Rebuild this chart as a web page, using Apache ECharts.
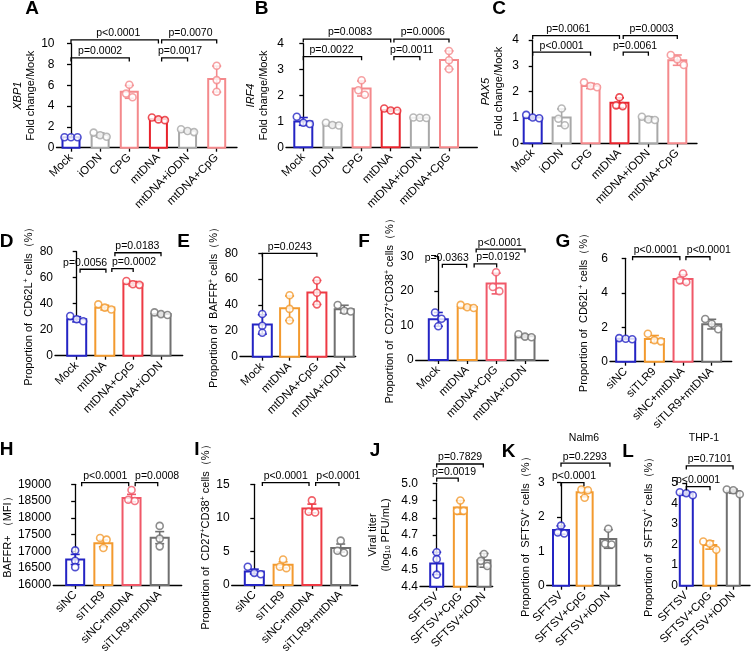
<!DOCTYPE html>
<html>
<head>
<meta charset="utf-8">
<script src="https://cdn.jsdelivr.net/npm/echarts@6/dist/echarts.min.js"></script>
<style>
html,body{margin:0;padding:0;background:#fff}
#main{width:751px;height:656px}
</style>
</head>
<body>
<div id="main"></div>
<script>
// ---- data ----
const catsABC = ['Mock', 'iODN', 'CPG', 'mtDNA', 'mtDNA+iODN', 'mtDNA+CpG'];
const catsDEF = ['Mock', 'mtDNA', 'mtDNA+CpG', 'mtDNA+iODN'];
const catsGHI = ['siNC', 'siTLR9', 'siNC+mtDNA', 'siTLR9+mtDNA'];
const catsJKL = ['SFTSV', 'SFTSV+CpG', 'SFTSV+iODN'];

// A  XBP1
const meanA = [1.0, 1.22, 5.37, 2.75, 1.62, 6.6];
const errA = [0.02, 0.2, 0.62, 0.12, 0.12, 1.25];
const ptsA = [[1.0, 1.0, 1.0], [1.45, 1.2, 1.05], [6.05, 5.2, 4.85], [2.9, 2.72, 2.65], [1.78, 1.6, 1.5], [7.88, 6.5, 5.38]];
// bracket: [from, to, level, text x, label]
const brA = [[0, 3, 10.36, 1.62, 'p<0.0001'], [3.11, 5, 10.36, 4.1, 'p=0.0070'], [0, 2, 8.63, 1.0, 'p=0.0002'], [3.11, 4, 8.63, 3.74, 'p=0.0017']];

// B  IRF4
const meanB = [1.0, 0.88, 2.27, 1.44, 1.14, 3.37];
const errB = [0.15, 0.06, 0.29, 0.05, 0.02, 0.35];
const ptsB = [[1.18, 0.95, 0.9], [0.95, 0.86, 0.84], [2.59, 2.2, 2.03], [1.5, 1.42, 1.41], [1.15, 1.14, 1.13], [3.72, 3.36, 3.02]];
const brB = [[0, 3, 4.18, 1.6, 'p=0.0083'], [3.11, 5, 4.18, 4.1, 'p=0.0006'], [0, 2, 3.5, 0.97, 'p=0.0022'], [3.11, 4, 3.5, 3.72, 'p=0.0011']];

// C  PAX5
const meanC = [1.0, 1.0, 2.22, 1.57, 0.95, 3.22];
const errC = [0.06, 0.33, 0.1, 0.19, 0.08, 0.2];
const ptsC = [[1.1, 1.0, 0.97], [1.35, 0.95, 0.7], [2.36, 2.22, 2.17], [1.78, 1.47, 1.44], [1.03, 0.92, 0.9], [3.42, 3.25, 3.03]];
const brC = [[0, 3, 4.17, 1.23, 'p=0.0061'], [3.13, 5, 4.17, 4.11, 'p=0.0003'], [0, 2, 3.53, 1.0, 'p<0.0001'], [3.13, 4, 3.53, 3.54, 'p=0.0061']];

// D  CD62L+
const meanD = [28, 37, 55.5, 32];
const errD = [2, 1.8, 1.6, 1];
const ptsD = [[30.5, 28, 26.5], [39.5, 37, 35.5], [57.5, 55, 54.5], [33.3, 32, 31.3]];
const brD = [[0.12, 1.04, 66.5, 0.3, 'p=0.0056'], [1.25, 2.01, 67, 2.04, 'p=0.0002'], [1.36, 3, 79.2, 2.16, 'p=0.0183']];

// E  BAFFR+
const meanE = [25, 37.5, 49.7, 36.8];
const errE = [7.5, 9.5, 9.3, 3];
const ptsE = [[33, 24, 18.5], [47.5, 37, 28], [59, 49.5, 40.5], [40, 35.5, 35]];
const brE = [[0, 2, 80, 1.01, 'p=0.0243']];

// F  CD27+CD38+
const meanF = [11.8, 15.4, 22.2, 6.9];
const errF = [2, 0.5, 3, 0.4];
const ptsF = [[13.8, 12, 9.8], [16, 15.3, 15.1], [25.5, 21.2, 20], [7.5, 6.8, 6.6]];
const brF = [[0.14, 0.98, 27.8, 0.29, 'p=0.0363'], [1.24, 2.02, 27.9, 2.08, 'p=0.0192'], [1.31, 3, 32.2, 2.13, 'p<0.0001']];

// G  CD62L+ (siRNA)
const meanG = [1.33, 1.32, 4.8, 2.18];
const errG = [0.03, 0.2, 0.25, 0.28];
const ptsG = [[1.37, 1.33, 1.3], [1.62, 1.25, 1.18], [5.12, 4.72, 4.62], [2.48, 2.2, 1.88]];
const brG = [[0.24, 1.89, 6.09, 1.05, 'p<0.0001'], [2.1, 2.94, 6.09, 2.9, 'p<0.0001']];

// H  BAFFR+ MFI
const meanH = [16760, 17240, 18590, 17410];
const errH = [150, 100, 110, 180];
const ptsH = [[17030, 16720, 16530], [17400, 17350, 17100], [18830, 18540, 18500], [17760, 17380, 17150]];
const brH = [[0.23, 1.9, 19047, 1.07, 'p<0.0001'], [2.13, 2.93, 19047, 2.91, 'p=0.0008']];

// I  CD27+CD38+ (siRNA)
const meanI = [2.0, 3.0, 11.4, 5.5];
const errI = [0.35, 0.45, 0.65, 0.6];
const ptsI = [[2.7, 1.8, 1.6], [3.8, 2.7, 2.5], [12.6, 10.9, 10.8], [6.6, 5.1, 4.8]];
const brI = [[0.28, 1.9, 15.25, 1.09, 'p<0.0001'], [2.13, 2.94, 15.25, 2.92, 'p<0.0001']];

// J  viral titer
const meanJ = [4.535, 4.86, 4.553];
const errJ = [0.065, 0.04, 0.04];
const ptsJ = [[4.6, 4.56, 4.47], [4.9, 4.84, 4.84], [4.59, 4.55, 4.52]];
const brJ = [[0, 0.91, 5.03, 0.73, 'p=0.0019'], [0, 1.97, 5.112, 0.99, 'p=0.7829']];

// K  Nalm6
const meanK = [1.62, 2.72, 1.36];
const errK = [0.12, 0.13, 0.27];
const ptsK = [[1.75, 1.55, 1.52], [2.8, 2.78, 2.56], [1.66, 1.22, 1.2]];
const brK = [[0, 0.97, 3.0, 0.55, 'p<0.0001'], [0, 2.07, 3.57, 1.01, 'p=0.2293']];

// L  THP-1
const meanL = [4.48, 1.98, 4.6];
const errL = [0.08, 0.2, 0.1];
const ptsL = [[4.55, 4.5, 4.4], [2.15, 2.05, 1.75], [4.68, 4.65, 4.45]];
const brL = [[0, 1.01, 4.82, 0.5, 'p<0.0001'], [0, 1.99, 5.83, 1.0, 'p=0.7101']];

// ---- styling ----
const FONT = 'Liberation Sans, Arial, Helvetica, sans-serif';
const BLUE = '#2424c4', LGRAY = '#a8a8a8', PINK = '#f4898c', RED = '#e8232c';
const ORANGE = '#f39a2e', DGRAY = '#707070', RED2 = '#ee3a44', PRED = '#f05868';

const propName = s => 'Proportion of  ' + s + ' cells（%）';

const panels = [
  {cats: catsABC, mean: meanA, err: errA, pts: ptsA, br: brA, L: 56.5, R: 237, T: 43.7, B: 147.7, c0: 71, sp: 29.14, y: [0, 10, 2], bw: 17,
    col: [BLUE, LGRAY, PINK, RED, LGRAY, PINK], name: '{i|XBP1}\nFold change/Mock', gap: 19, letter: ['A', 32, 8.5]},
  {cats: catsABC, mean: meanB, err: errB, pts: ptsB, br: brB, L: 286, R: 477.3, T: 43.7, B: 147.3, c0: 303.3, sp: 29.14, y: [0, 4, 1], bw: 18,
    col: [BLUE, LGRAY, PINK, RED, LGRAY, PINK], name: '{i|IRF4}\nFold change/Mock', gap: 16, letter: ['B', 261.5, 8.5]},
  {cats: catsABC, mean: meanC, err: errC, pts: ptsC, br: brC, L: 521, R: 697, T: 40, B: 143.3, c0: 532.7, sp: 28.92, y: [0, 4, 1], bw: 18,
    col: [BLUE, LGRAY, PINK, RED, LGRAY, PINK], name: '{i|PAX5}\nFold change/Mock', gap: 16, letter: ['C', 499, 8.5]},
  {cats: catsDEF, mean: meanD, err: errD, pts: ptsD, br: brD, L: 55, R: 182.7, T: 251.7, B: 355.7, c0: 76.7, sp: 28.1, y: [0, 80, 20], bw: 19,
    col: [BLUE, ORANGE, RED2, DGRAY], name: propName('CD62L{sup|+}'), gap: 19.5, letter: ['D', 6.5, 242]},
  {cats: catsDEF, mean: meanE, err: errE, pts: ptsE, br: brE, L: 240, R: 355.7, T: 253.3, B: 356.7, c0: 262.3, sp: 27.3, y: [0, 80, 20], bw: 19,
    col: [BLUE, ORANGE, RED2, DGRAY], name: propName('BAFFR{sup|+}'), gap: 19.5, letter: ['E', 183.5, 242]},
  {cats: catsDEF, mean: meanF, err: errF, pts: ptsF, br: brF, L: 415.7, R: 548.3, T: 256.7, B: 360, c0: 438.3, sp: 28.9, y: [0, 30, 10], bw: 19,
    col: [BLUE, ORANGE, PRED, DGRAY], name: propName('CD27{sup|+}CD38{sup|+}'), gap: 17, letter: ['F', 364, 242]},
  {cats: catsGHI, mean: meanG, err: errG, pts: ptsG, br: brG, L: 610, R: 731.7, T: 258.3, B: 361.7, c0: 625.7, sp: 28.67, y: [0, 6, 2], bw: 19,
    col: [BLUE, ORANGE, PRED, DGRAY], name: propName('CD62L{sup|+}'), gap: 19.5, letter: ['G', 563, 242]},
  {cats: catsGHI, mean: meanH, err: errH, pts: ptsH, br: brH, L: 51, R: 181.7, T: 484.3, B: 587.7, c0: 73.3, sp: 28.67, y: [16000, 19000, 500], bw: 18,
    col: [BLUE, ORANGE, PRED, DGRAY], name: 'BAFFR+ （MFI）', gap: 34, letter: ['H', 6.5, 450]},
  {cats: catsGHI, mean: meanI, err: errI, pts: ptsI, br: brI, L: 231.7, R: 357.7, T: 484.3, B: 587.7, c0: 254.3, sp: 28.8, y: [0, 15, 5], bw: 19,
    col: [BLUE, ORANGE, RED2, DGRAY], name: propName('CD27{sup|+}CD38{sup|+}'), gap: 16, letter: ['I', 197, 450]},
  {cats: catsJKL, mean: meanJ, err: errJ, pts: ptsJ, br: brJ, L: 420, R: 492.7, T: 483.3, B: 586.7, c0: 436.7, sp: 23.65, y: [4.4, 5.0, 0.1], bw: 13,
    col: [BLUE, ORANGE, DGRAY], name: 'Viral titer\n(log{sub|10} PFU/mL)', gap: 28, letter: ['J', 375, 451], fmt: v => v.toFixed(1)},
  {cats: catsJKL, mean: meanK, err: errK, pts: ptsK, br: brK, L: 546.7, R: 620, T: 482.7, B: 585.7, c0: 561, sp: 23.65, y: [0, 3, 1], bw: 16,
    col: [BLUE, ORANGE, DGRAY], name: propName('SFTSV{sup|+}'), gap: 14, letter: ['K', 508.5, 451.5]},
  {cats: catsJKL, mean: meanL, err: errL, pts: ptsL, br: brL, L: 680, R: 750, T: 483, B: 585.7, c0: 686.3, sp: 23.5, y: [0, 5, 1], bw: 13,
    col: [BLUE, ORANGE, DGRAY], name: propName('SFTSV{sup|+}'), gap: 25, letter: ['L', 628, 451.5]}
];

// spread overlapping dots sideways, like a prism scatter-dot plot
function spread(vals, ppu) {
  const order = vals.map((v, i) => i).sort((a, b) => vals[b] - vals[a]);
  const clusters = [];
  order.forEach(i => {
    const c = clusters.find(cl => cl.some(j => Math.abs(vals[j] - vals[i]) * ppu < 6.5));
    if (c) c.push(i); else clusters.push([i]);
  });
  const off = vals.map(() => 0);
  clusters.forEach(cl => cl.forEach((j, k) => { off[j] = (k - (cl.length - 1) / 2) * 6.5; }));
  return off;
}

const grids = [], xAxes = [], yAxes = [], series = [], graphic = [];
const axisLine = {show: true, lineStyle: {color: '#000', width: 1.3}};
const tickStyle = {color: '#000', width: 1.3};

panels.forEach((p, k) => {
  const idx = p.cats.map((c, i) => i);
  const ppu = (p.B - p.T) / (p.y[1] - p.y[0]);
  grids.push({left: p.L, top: p.T, width: p.R - p.L, height: p.B - p.T});
  xAxes.push({
    gridIndex: k, type: 'value',
    min: (p.L - p.c0) / p.sp, max: (p.R - p.c0) / p.sp,
    axisLine: axisLine,
    axisTick: {show: true, customValues: idx, length: 4, lineStyle: tickStyle},
    axisLabel: {customValues: idx, rotate: 45, fontSize: 11.5, color: '#000', margin: 8,
      fontFamily: FONT, formatter: v => p.cats[Math.round(v)]},
    splitLine: {show: false}
  });
  yAxes.push({
    gridIndex: k, type: 'value', min: p.y[0], max: p.y[1], interval: p.y[2],
    axisLine: axisLine,
    axisTick: {show: true, length: 4, lineStyle: tickStyle},
    axisLabel: {fontSize: 12, color: '#000', margin: 2, fontFamily: FONT, formatter: p.fmt || (v => String(v))},
    splitLine: {show: false},
    name: p.name, nameLocation: 'middle', nameGap: p.gap,
    nameTextStyle: {fontSize: 11, color: '#000', fontFamily: FONT, lineHeight: 13,
      rich: {
        i: {fontStyle: 'italic', fontSize: 11, fontFamily: FONT, color: '#000'},
        sup: {fontSize: 7, fontFamily: FONT, color: '#000', verticalAlign: 'top', lineHeight: 13},
        sub: {fontSize: 7, fontFamily: FONT, color: '#000', verticalAlign: 'bottom', lineHeight: 13}
      }}
  });

  // bars
  series.push({
    type: 'custom', xAxisIndex: k, yAxisIndex: k, clip: false, z: 2, silent: true,
    data: p.mean.map((m, i) => [i, m]), encode: {x: 0, y: 1},
    renderItem: (params, api) => {
      const i = api.value(0);
      const top = api.coord([i, api.value(1)]);
      const base = api.coord([i, p.y[0]]);
      return {type: 'rect', shape: {x: top[0] - p.bw / 2, y: top[1], width: p.bw, height: base[1] - top[1]},
        style: {fill: '#fff', stroke: p.col[i], lineWidth: 2}};
    }
  });
  // error bars
  series.push({
    type: 'custom', xAxisIndex: k, yAxisIndex: k, clip: false, z: 3, silent: true,
    data: p.mean.map((m, i) => [i, m - p.err[i], m + p.err[i]]), encode: {x: 0, y: [1, 2]},
    renderItem: (params, api) => {
      const i = api.value(0);
      const lo = api.coord([i, api.value(1)]), hi = api.coord([i, api.value(2)]);
      const w = 4.5, st = {stroke: p.col[i], lineWidth: 1.6};
      return {type: 'group', children: [
        {type: 'line', shape: {x1: lo[0], y1: lo[1], x2: hi[0], y2: hi[1]}, style: st},
        {type: 'line', shape: {x1: lo[0] - w, y1: lo[1], x2: lo[0] + w, y2: lo[1]}, style: st},
        {type: 'line', shape: {x1: hi[0] - w, y1: hi[1], x2: hi[0] + w, y2: hi[1]}, style: st}
      ]};
    }
  });
  // dots
  const dots = [];
  p.pts.forEach((vals, i) => {
    const off = spread(vals, ppu);
    vals.forEach((v, j) => dots.push({value: [i, v], symbolOffset: [off[j], 0],
      itemStyle: {color: '#fff', borderColor: p.col[i], borderWidth: 1.6}}));
  });
  series.push({type: 'scatter', xAxisIndex: k, yAxisIndex: k, z: 4, silent: true,
    symbol: 'circle', symbolSize: 7, data: dots});
  // significance brackets
  series.push({
    type: 'custom', xAxisIndex: k, yAxisIndex: k, clip: false, z: 5, silent: true,
    data: p.br.map(b => [b[0], b[1], b[2], b[3]]), encode: {x: [0, 1], y: 2},
    renderItem: (params, api) => {
      const b = p.br[params.dataIndex];
      const a = api.coord([b[0], b[2]]), c = api.coord([b[1], b[2]]), t = api.coord([b[3], b[2]]);
      return {type: 'group', children: [
        {type: 'polyline', shape: {points: [[a[0], a[1] + 3.5], [a[0], a[1]], [c[0], c[1]], [c[0], c[1] + 3.5]]},
          style: {stroke: '#000', lineWidth: 1.3, fill: null}},
        {type: 'text', x: t[0], y: a[1] - 1,
          style: {text: b[4], fontSize: 10.5, fontFamily: FONT, fill: '#000', align: 'center', verticalAlign: 'bottom'}}
      ]};
    }
  });

  graphic.push({type: 'text', x: p.letter[1], y: p.letter[2],
    style: {text: p.letter[0], fontSize: 19, fontWeight: 'bold', fontFamily: FONT, fill: '#000', align: 'center', verticalAlign: 'middle'}});
});

graphic.push({type: 'text', x: 584, y: 438, style: {text: 'Nalm6', fontSize: 10.5, fontFamily: FONT, fill: '#000', align: 'center', verticalAlign: 'middle'}});
graphic.push({type: 'text', x: 704, y: 438, style: {text: 'THP-1', fontSize: 10.5, fontFamily: FONT, fill: '#000', align: 'center', verticalAlign: 'middle'}});

const chart = echarts.init(document.getElementById('main'), null, {renderer: 'canvas'});
chart.setOption({
  animation: false,
  backgroundColor: '#fff',
  textStyle: {fontFamily: FONT},
  grid: grids,
  xAxis: xAxes,
  yAxis: yAxes,
  series: series,
  graphic: graphic
});
</script>
</body>
</html>
